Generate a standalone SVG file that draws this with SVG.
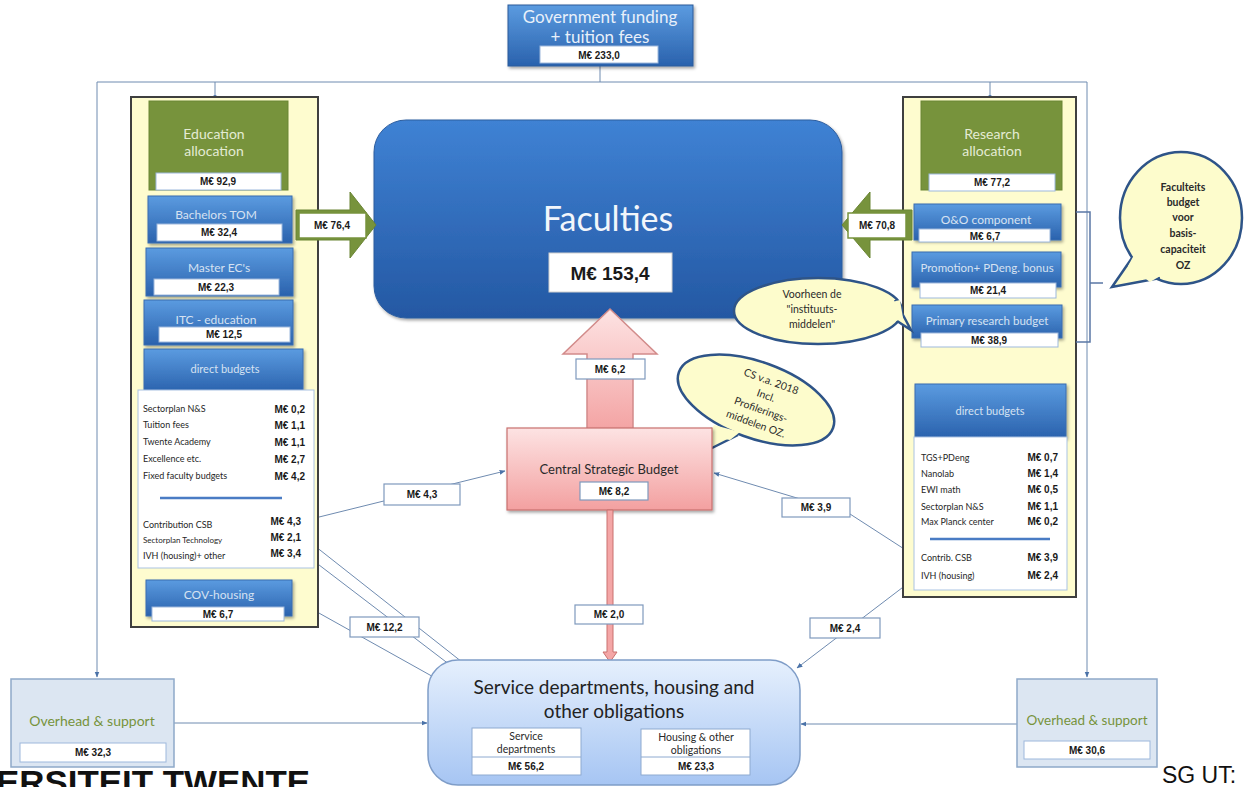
<svg xmlns="http://www.w3.org/2000/svg" width="1245" height="787" viewBox="0 0 1245 787">
<defs>
<linearGradient id="gBlue" x1="0" y1="0" x2="0" y2="1"><stop offset="0" stop-color="#5b9be0"/><stop offset="1" stop-color="#2a62ad"/></linearGradient>
<linearGradient id="gFac" x1="0" y1="0" x2="0" y2="1"><stop offset="0" stop-color="#3f82d4"/><stop offset="1" stop-color="#2458a3"/></linearGradient>
<linearGradient id="gPink" x1="0" y1="0" x2="0" y2="1"><stop offset="0" stop-color="#fde3e3"/><stop offset="1" stop-color="#f3a0a0"/></linearGradient>
<linearGradient id="gSvc" x1="0" y1="0" x2="0" y2="1"><stop offset="0" stop-color="#e6f0fd"/><stop offset="1" stop-color="#a6c5f3"/></linearGradient>
<filter id="sh" x="-10%" y="-10%" width="130%" height="140%"><feDropShadow dx="1.5" dy="2" stdDeviation="1.5" flood-color="#000" flood-opacity="0.35"/></filter>
<marker id="ar" viewBox="0 0 10 10" refX="9" refY="5" markerWidth="6" markerHeight="6" orient="auto"><path d="M0,1 L10,5 L0,9 z" fill="#4a72a8"/></marker>
</defs>
<style>
.blue{fill:url(#gBlue);stroke:#3b6cb0;stroke-width:1;filter:url(#sh)}
.green{fill:#77933c;stroke:#6a8534;stroke-width:1}
.lbl{fill:#fff;stroke:#9db8dc;stroke-width:1}
.flbl{fill:#fff;stroke:#7f99bd;stroke-width:1.2}
.col{fill:#fefccf;stroke:#3f3f3f;stroke-width:2}
.pnl{fill:#fff;stroke:#a9c2e2;stroke-width:1}
.v{font-family:"Liberation Sans",Arial,sans-serif;font-weight:bold;font-size:10px;fill:#1a1a1a;text-anchor:middle}
.vr{font-family:"Liberation Sans",Arial,sans-serif;font-weight:bold;font-size:10px;fill:#1a1a1a;text-anchor:end}
.t{font-family:Lato,"Liberation Sans",sans-serif;fill:#d6e2f2;text-anchor:middle;font-size:12px}
.tg{font-family:Lato,"Liberation Sans",sans-serif;fill:#e4ecd4;text-anchor:middle;font-size:14px}
.it{font-family:Lato,"Liberation Sans",sans-serif;fill:#262626;font-size:9px}
.bt{font-family:Lato,"Liberation Sans",sans-serif;fill:#2a2a2a;text-anchor:middle;font-size:10.5px}
.con{fill:none;stroke:#6f8bb0;stroke-width:1}
.bub{fill:#fdfccc;stroke:#2e5488;stroke-width:2.5}
.ov{fill:#dce6f2;stroke:#8ea9c9;stroke-width:1.5}
.ot{font-family:Lato,"Liberation Sans",sans-serif;fill:#77933c;text-anchor:middle;font-size:14px}
</style>

<g id="connectors">
<path class="con" d="M600,66 V82"/>
<path class="con" d="M600,82 H97 V677" marker-end="url(#ar)"/>
<path class="con" d="M600,82 H1087 V677" marker-end="url(#ar)"/>
<path class="con" d="M215,82 V97"/>
<circle cx="215" cy="97" r="2" fill="#4a72a8"/>
<path class="con" d="M990,82 V97"/>
<circle cx="990" cy="97" r="2" fill="#4a72a8"/>
<path class="con" d="M307,520 L505,471" marker-end="url(#ar)"/>
<path class="con" d="M915,556 L850,514 L714,473" marker-end="url(#ar)"/>
<path class="con" d="M306,539 L476,673" marker-end="url(#ar)"/>
<path class="con" d="M306,555 L454,668" marker-end="url(#ar)"/>
<path class="con" d="M292,598 L446,684" marker-end="url(#ar)"/>
<path class="con" d="M915,578 L797,668" marker-end="url(#ar)"/>
<path class="con" d="M174,723 L427,723" marker-end="url(#ar)"/>
<path class="con" d="M1017,724 L801,724" marker-end="url(#ar)"/>
<rect x="384" y="484" width="76" height="21" class="flbl"/>
<text x="422" y="498" class="v">M€  4,3</text>
<rect x="782" y="498" width="68" height="19" class="flbl"/>
<text x="816" y="511" class="v">M€  3,9</text>
<rect x="350" y="617" width="69" height="20" class="flbl"/>
<text x="384.5" y="631" class="v">M€  12,2</text>
<rect x="810" y="618" width="70" height="20" class="flbl"/>
<text x="845" y="632" class="v">M€  2,4</text>
</g>

<g id="gov">
<rect x="508" y="5" width="185" height="61" fill="url(#gBlue)" stroke="#2a5a9a" filter="url(#sh)"/>
<text x="600" y="23" class="t" style="font-size:17px;fill:#e8f0fa">Government funding</text>
<text x="600" y="43" class="t" style="font-size:17px;fill:#e8f0fa">+ tuition fees</text>
<rect x="540" y="46" width="118" height="17" class="lbl"/>
<text x="599" y="59" class="v">M€  233,0</text>
</g>

<g id="left-column">
<rect x="131" y="97" width="187" height="530" class="col"/>
<g id="education-allocation">
<rect x="149" y="101" width="139" height="89" class="green"/>
<text x="214" y="139" class="tg">Education</text>
<text x="214" y="156" class="tg">allocation</text>
<rect x="156" y="173" width="125" height="17" class="lbl"/>
<text x="218" y="185" class="v">M€  92,9</text>
</g>
<g id="bachelors">
<rect x="148" y="196" width="144" height="47" class="blue"/>
<text x="216" y="219" class="t">Bachelors TOM</text>
<rect x="157" y="224" width="125" height="17" class="lbl"/>
<text x="219" y="236" class="v">M€  32,4</text>
</g>
<g id="master">
<rect x="146" y="248" width="147" height="48" class="blue"/>
<text x="219" y="272" class="t">Master EC's</text>
<rect x="154" y="279" width="125" height="16" class="lbl"/>
<text x="216" y="291" class="v">M€  22,3</text>
</g>
<g id="itc">
<rect x="144" y="300" width="149" height="45" class="blue"/>
<text x="216" y="324" class="t">ITC - education</text>
<rect x="159" y="327" width="131" height="15" class="lbl"/>
<text x="224" y="338" class="v">M€  12,5</text>
</g>
<g id="left-direct">
<rect x="144" y="349" width="159" height="43" class="blue"/>
<text x="225" y="373" class="t" style="font-size:11px">direct budgets</text>
<rect x="138" y="390" width="176" height="178" class="pnl"/>
<text x="143" y="412" class="it">Sectorplan N&amp;S</text>
<text x="305" y="413" class="vr">M€  0,2</text>
<text x="143" y="428" class="it">Tuition fees</text>
<text x="305" y="429" class="vr">M€  1,1</text>
<text x="143" y="445" class="it">Twente Academy</text>
<text x="305" y="446" class="vr">M€  1,1</text>
<text x="143" y="462" class="it">Excellence etc.</text>
<text x="305" y="463" class="vr">M€  2,7</text>
<text x="143" y="479" class="it">Fixed faculty budgets</text>
<text x="305" y="480" class="vr">M€  4,2</text>
<line x1="160" y1="498" x2="282" y2="498" stroke="#4a7cc4" stroke-width="2.5"/>
<text x="143" y="528" class="it">Contribution CSB</text>
<text x="301" y="525" class="vr">M€  4,3</text>
<text x="143" y="543" class="it" style="font-size:8px">Sectorplan Technology</text>
<text x="301" y="541" class="vr">M€  2,1</text>
<text x="143" y="559" class="it">IVH (housing)+ other</text>
<text x="301" y="557" class="vr">M€  3,4</text>
</g>
<g id="cov">
<rect x="146" y="580" width="146" height="36" class="blue"/>
<text x="219" y="599" class="t">COV-housing</text>
<rect x="152" y="607" width="132" height="14" class="lbl"/>
<text x="218" y="618" class="v">M€  6,7</text>
</g>
</g>

<g id="right-column">
<rect x="903" y="97" width="173" height="500" class="col"/>
<g id="research-allocation">
<rect x="921" y="101" width="141" height="89" class="green"/>
<text x="992" y="139" class="tg">Research</text>
<text x="992" y="156" class="tg">allocation</text>
<rect x="929" y="174" width="126" height="17" class="lbl"/>
<text x="992" y="186" class="v">M€  77,2</text>
</g>
<g id="oo">
<rect x="914" y="204" width="147" height="36" class="blue"/>
<text x="986" y="224" class="t">O&amp;O component</text>
<rect x="919" y="229" width="131" height="13" class="lbl"/>
<text x="985" y="240" class="v">M€  6,7</text>
</g>
<g id="promotion">
<rect x="912" y="252" width="149" height="35" class="blue"/>
<text x="987" y="272" class="t" style="font-size:11.5px">Promotion+ PDeng. bonus</text>
<rect x="920" y="283" width="136" height="15" class="lbl"/>
<text x="988" y="294" class="v">M€  21,4</text>
</g>
<g id="primary">
<rect x="912" y="305" width="150" height="33" class="blue"/>
<text x="987" y="325" class="t" style="font-size:11.5px">Primary research budget</text>
<rect x="921" y="333" width="137" height="14" class="lbl"/>
<text x="989" y="344" class="v">M€  38,9</text>
</g>
<g id="right-direct">
<rect x="915" y="384" width="151" height="54" class="blue"/>
<text x="990" y="415" class="t" style="font-size:11px">direct budgets</text>
<rect x="914" y="437" width="153" height="153" class="pnl"/>
<text x="921" y="461" class="it">TGS+PDeng</text>
<text x="1058" y="461" class="vr">M€  0,7</text>
<text x="921" y="477" class="it">Nanolab</text>
<text x="1058" y="477" class="vr">M€  1,4</text>
<text x="921" y="493" class="it">EWI math</text>
<text x="1058" y="493" class="vr">M€  0,5</text>
<text x="921" y="510" class="it">Sectorplan N&amp;S</text>
<text x="1058" y="510" class="vr">M€  1,1</text>
<text x="921" y="525" class="it">Max Planck center</text>
<text x="1058" y="525" class="vr">M€  0,2</text>
<line x1="930" y1="539" x2="1050" y2="539" stroke="#4a7cc4" stroke-width="2.5"/>
<text x="921" y="561" class="it">Contrib. CSB</text>
<text x="1058" y="561" class="vr">M€  3,9</text>
<text x="921" y="579" class="it">IVH (housing)</text>
<text x="1058" y="579" class="vr">M€  2,4</text>
</g>
</g>

<g id="faculties">
<rect x="374" y="120" width="468" height="198" rx="32" fill="url(#gFac)" stroke="#2d5d9e" filter="url(#sh)"/>
<text x="608" y="231" style="font-family:Lato,'Liberation Sans',sans-serif;font-size:34px;fill:#f2f6fb;text-anchor:middle">Faculties</text>
<rect x="549" y="253" width="123" height="39" fill="#fff" stroke="#cfcfcf"/>
<text x="610" y="280" class="v" style="font-size:19px">M€  153,4</text>
</g>

<g id="arrow-education">
<polygon points="296,210 350,210 350,192 376,225 350,258 350,240 296,240" class="green"/>
<rect x="299" y="213" width="67" height="25" fill="#fff" stroke="#77933c" stroke-width="1.5"/>
<text x="332" y="229" class="v">M€  76,4</text>
</g>
<g id="arrow-research">
<polygon points="912,210 870,210 870,192 842,225 870,258 870,240 912,240" class="green"/>
<rect x="848" y="213" width="58" height="25" fill="#fff" stroke="#77933c" stroke-width="1.5"/>
<text x="877" y="229" class="v">M€  70,8</text>
</g>

<g id="bracket">
<path d="M1076,212 H1090 V342 H1076 M1090,283 H1103" fill="none" stroke="#5a77a5" stroke-width="1.5"/>
</g>

<g id="bubble-faculteits">
<ellipse cx="1181" cy="218" rx="61" ry="66" class="bub"/>
<polygon points="1132,258 1160,278 1112,287" fill="#fdfccc"/>
<polyline points="1132,258 1112,287 1160,278" fill="none" stroke="#2e5488" stroke-width="2.5"/>
<polygon points="1134,255 1162,275 1150,282 1128,266" fill="#fdfccc"/>
<g style="font-family:Lato,'Liberation Sans',sans-serif;font-size:10.5px;fill:#2a2a2a;text-anchor:middle;font-weight:bold">
<text x="1183" y="191">Faculteits</text>
<text x="1183" y="206">budget</text>
<text x="1183" y="221">voor</text>
<text x="1183" y="237">basis-</text>
<text x="1183" y="253">capaciteit</text>
<text x="1183" y="269">OZ</text>
</g>
</g>

<g id="bubble-voorheen">
<ellipse cx="818" cy="311" rx="84" ry="33" class="bub"/>
<polygon points="895,300 911,330 897,321" fill="#fdfccc"/>
<polyline points="895,300 911,330 897,321" fill="none" stroke="#2e5488" stroke-width="2.5"/>
<polygon points="892,302 900,300 903,318 893,322" fill="#fdfccc"/>
<text x="812" y="298" class="bt">Voorheen de</text>
<text x="812" y="313" class="bt">"instituuts-</text>
<text x="812" y="328" class="bt">middelen"</text>
</g>

<g id="csb-arrow">
<polygon points="587,437 587,354 563,354 610,309 657,354 633,354 633,437" fill="url(#gPink)" stroke="#d28b8a" stroke-width="1.5"/>
<rect x="576" y="359" width="69" height="20" class="flbl"/>
<text x="610" y="373" class="v">M€  6,2</text>
</g>

<g id="bubble-cs">
<g transform="rotate(20 756 400)">
<ellipse cx="756" cy="400" rx="82" ry="38" class="bub"/>
</g>
<polygon points="712,428 738,435 698,455" fill="#fdfccc"/>
<polyline points="712,428 698,455 738,435" fill="none" stroke="#2e5488" stroke-width="2.5"/>
<polygon points="714,425 740,432 730,440 708,436" fill="#fdfccc"/>
<g transform="rotate(20 756 400)" style="font-family:Lato,'Liberation Sans',sans-serif;font-size:10.5px;fill:#2a2a2a;text-anchor:middle">
<text x="764" y="381">CS v.a. 2018</text>
<text x="764" y="396">Incl.</text>
<text x="764" y="411">Profilerings-</text>
<text x="764" y="426">middelen OZ.</text>
</g>
</g>

<g id="csb">
<rect x="507" y="428" width="205" height="82" fill="url(#gPink)" stroke="#c9716f" stroke-width="1.2" filter="url(#sh)"/>
<text x="609" y="474" style="font-family:Lato,'Liberation Sans',sans-serif;font-size:13px;fill:#2a2a2a;text-anchor:middle">Central Strategic Budget</text>
<rect x="580" y="482" width="68" height="18" class="flbl"/>
<text x="614" y="495" class="v">M€  8,2</text>
</g>

<g id="csb-down">
<polygon points="607,510 613,510 613,652 617,652 610,662 603,652 607,652" fill="#f4a6a6" stroke="#c9716f" stroke-width="1"/>
<rect x="575" y="605" width="68" height="19" class="flbl"/>
<text x="609" y="618" class="v">M€  2,0</text>
</g>

<g id="services">
<rect x="428" y="660" width="372" height="125" rx="30" fill="url(#gSvc)" stroke="#7f9dc8" stroke-width="1.5"/>
<text x="614" y="694" style="font-family:Lato,'Liberation Sans',sans-serif;font-size:19px;fill:#222;text-anchor:middle">Service departments, housing and</text>
<text x="614" y="718" style="font-family:Lato,'Liberation Sans',sans-serif;font-size:19px;fill:#222;text-anchor:middle">other obligations</text>
<rect x="472" y="728" width="109" height="47" fill="#fff" stroke="#8eaad0"/>
<line x1="472" y1="757" x2="581" y2="757" stroke="#8eaad0"/>
<text x="526" y="740" class="bt">Service</text>
<text x="526" y="753" class="bt">departments</text>
<text x="526" y="770" class="v">M€  56,2</text>
<rect x="641" y="729" width="109" height="46" fill="#fff" stroke="#8eaad0"/>
<line x1="641" y1="757" x2="750" y2="757" stroke="#8eaad0"/>
<text x="696" y="741" class="bt">Housing &amp; other</text>
<text x="696" y="754" class="bt">obligations</text>
<text x="696" y="770" class="v">M€  23,3</text>
</g>

<g id="overhead-left">
<rect x="11" y="679" width="163" height="88" class="ov"/>
<text x="92" y="726" class="ot">Overhead &amp; support</text>
<rect x="20" y="743" width="146" height="19" class="lbl"/>
<text x="93" y="756" class="v">M€  32,3</text>
</g>
<g id="overhead-right">
<rect x="1017" y="679" width="140" height="88" class="ov"/>
<text x="1087" y="725" class="ot" style="font-size:13.5px">Overhead &amp; support</text>
<rect x="1024" y="741" width="126" height="18" class="lbl"/>
<text x="1087" y="754" class="v">M€  30,6</text>
</g>

<text x="-4" y="794" style="font-family:'Liberation Sans',Arial,sans-serif;font-size:34px;fill:#111;font-weight:bold" textLength="314" lengthAdjust="spacingAndGlyphs">ERSITEIT TWENTE</text>
<text x="1162" y="783" style="font-family:'Liberation Sans',Arial,sans-serif;font-size:23px;fill:#111">SG UT:</text>
</svg>
